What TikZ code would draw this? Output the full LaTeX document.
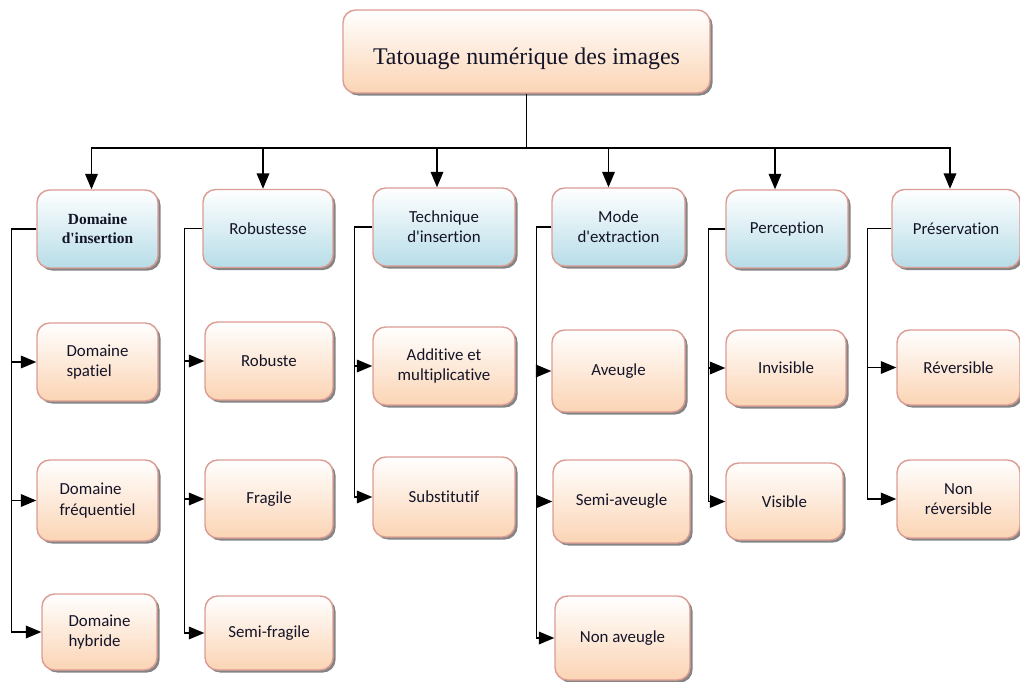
\documentclass[tikz,border=0pt]{standalone}
\usepackage{fontspec}
\setmainfont{Liberation Serif}
\newfontfamily\boxfont[Ligatures=NoCommon]{Carlito}
\usetikzlibrary{arrows.meta, positioning, calc, shadows}
\definecolor{peach}{HTML}{FBD4B4}
\definecolor{skyblue}{HTML}{B7DDE8}
\definecolor{rimred}{HTML}{DB9C94}
\definecolor{shadegray}{HTML}{6F6F6F}
\definecolor{inkblack}{HTML}{141428}

\tikzset{
  box/.style={rounded corners=9pt, draw=rimred, line width=1pt, inner sep=2pt,
    text=inkblack, align=center,
    drop shadow={shadow xshift=1.8pt, shadow yshift=-1.8pt, fill=shadegray, opacity=0.85}},
  wd/.style={minimum width=#1*0.025cm},
  ht/.style={minimum height=#1*0.025cm},
  rootbox/.style={box, top color=white, bottom color=peach, font=\fontsize{17}{21}\selectfont},
  catbox/.style={box, top color=white, bottom color=skyblue, ht=78, font=\boxfont\fontsize{12}{14.5}\selectfont},
  leafbox/.style={box, top color=white, bottom color=peach, font=\boxfont\fontsize{12}{14.5}\selectfont},
  wire/.style={line width=1pt, black},
  link/.style={wire, -{Triangle[length=11pt, width=9pt]}}
}

\begin{document}
\begin{tikzpicture}[x=0.025cm, y=-0.025cm]

% page frame
\useasboundingbox (0,0) rectangle (1020,682);

% Root
\node[rootbox, wd=367, ht=83, text height=20pt, text depth=2pt] (root) at (526.5,51.5) {Tatouage num\'erique des images};

% Categories
\node[catbox, wd=121, font=\bfseries\fontsize{11}{13.5}\selectfont] (dom) at (97.5,229) {Domaine\\d\textquotesingle insertion};
\node[catbox, wd=130] (rob) at (268,228.5) {Robustesse};
\node[catbox, wd=142] (tech) at (444,227) {Technique\\d'insertion};
\node[catbox, wd=133] (mode) at (618.5,227) {Mode\\d'extraction};
\node[catbox, wd=122] (perc) at (787,229) {Perception};
\node[catbox, wd=128] (pres) at (956,228.5) {Pr\'eservation};

% Domaine d'insertion
\node[leafbox, wd=121, ht=78, align=left] (spat) at (97.5,362) {Domaine\\spatiel};
\node[leafbox, wd=121, ht=81, align=left] (freq) at (97.5,500.5) {Domaine\\fr\'equentiel};
\node[leafbox, wd=115, ht=76, align=left] (hyb) at (99.5,632) {Domaine\\hybride};

% Robustesse
\node[leafbox, wd=128, ht=78] (robu) at (269,361) {Robuste};
\node[leafbox, wd=128, ht=78] (frag) at (269,499) {Fragile};
\node[leafbox, wd=128, ht=74] (semifrag) at (269,633) {Semi-fragile};

% Technique d'insertion
\node[leafbox, wd=142, ht=78] (addi) at (444,366) {Additive et\\multiplicative};
\node[leafbox, wd=142, ht=80] (subs) at (444,497) {Substitutif};

% Mode d'extraction
\node[leafbox, wd=133, ht=82] (aveu) at (618.5,371) {Aveugle};
\node[leafbox, wd=137, ht=83] (semiaveu) at (621.5,501.5) {Semi-aveugle};
\node[leafbox, wd=135, ht=84] (nonaveu) at (622.5,638) {Non aveugle};

% Perception
\node[leafbox, wd=120, ht=76] (invi) at (786,368) {Invisible};
\node[leafbox, wd=117, ht=77] (visi) at (784.5,501.5) {Visible};

% Preservation
\node[leafbox, wd=123, ht=75] (reve) at (958.5,367.5) {R\'eversible};
\node[leafbox, wd=123, ht=78] (nonreve) at (958.5,499) {Non\\r\'eversible};

% root to categories
\coordinate (bus) at (526.5,148);
\draw[wire] (root.south) -- (bus);
\foreach \c/\dx in {dom/-6, rob/-5, tech/-7, mode/-10, perc/-12, pres/-6}
  \draw[link] (bus) -| ($(\c.north)+(\dx,0)$);

% categories to leaves
\foreach \c/\l in {dom/spat, dom/freq, dom/hyb}
  \draw[link] (\c.west) -- ++(-25,0) |- (\l.west);
\foreach \c/\l in {rob/robu, rob/frag, rob/semifrag}
  \draw[link] (\c.west) -- ++(-18,0) |- (\l.west);
\foreach \c/\l in {tech/addi, tech/subs}
  \draw[link] (\c.west) -- ++(-18,0) |- (\l.west);
\foreach \c/\l in {mode/aveu, mode/semiaveu, mode/nonaveu}
  \draw[link] (\c.west) -- ++(-15,0) |- (\l.west);
\foreach \c/\l in {perc/invi, perc/visi}
  \draw[link] (\c.west) -- ++(-17,0) |- (\l.west);
\foreach \c/\l in {pres/reve, pres/nonreve}
  \draw[link] (\c.west) -- ++(-24,0) |- (\l.west);

\end{tikzpicture}
\end{document}
